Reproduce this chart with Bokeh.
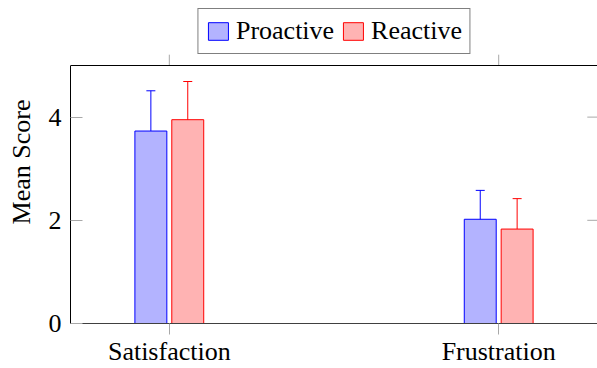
from bokeh.plotting import figure
from bokeh.models import (ColumnDataSource, Whisker, TeeHead, Span,
                          Legend, LegendItem, FixedTicker, Range1d, FactorRange)
from bokeh.transform import dodge
from bokeh.embed import file_html
from bokeh.resources import INLINE

categories = ["Satisfaction", "Frustration"]
series_names = ["Proactive", "Reactive"]
proactive_mean = [3.73, 2.02]
proactive_err = [0.78, 0.56]
reactive_mean = [3.95, 1.83]
reactive_err = [0.74, 0.59]
y_ticks = [0, 2, 4]
Y_MAX = 5          # top of the axis box
Y_VIEW = 6.26      # extra room above the box for the legend
PAD = 0.2          # category padding trimmed from each side of the factor range

FONT = "Liberation Serif"
TICK_GRAY = "#a8a8a8"
BLUE, BLUE_FILL = "#0000ff", "#b3b3ff"
RED, RED_FILL = "#ff0000", "#ffb3b3"

src = ColumnDataSource(dict(
    cat=categories,
    pm=proactive_mean,
    pu=[m + e for m, e in zip(proactive_mean, proactive_err)],
    pl=[m - e for m, e in zip(proactive_mean, proactive_err)],
    rm=reactive_mean,
    ru=[m + e for m, e in zip(reactive_mean, reactive_err)],
    rl=[m - e for m, e in zip(reactive_mean, reactive_err)],
    top=[Y_MAX] * len(categories),
    tick_end=[Y_MAX + 0.21] * len(categories),
))
# right-edge inward ticks, anchored on the last category
rsrc = ColumnDataSource(dict(cat=[categories[-1]] * len(y_ticks), y=y_ticks))

p = figure(width=597, height=368,
           x_range=FactorRange(*categories, range_padding=-PAD),
           y_range=Range1d(0, Y_VIEW),
           output_backend="svg", toolbar_location=None,
           min_border_left=70, min_border_right=0, min_border_top=0, min_border_bottom=0)
p.xgrid.visible = False
p.ygrid.visible = False
p.outline_line_color = None
p.background_fill_color = "white"
p.border_fill_color = "white"

# left axis
p.yaxis.ticker = FixedTicker(ticks=y_ticks)
p.yaxis.bounds = (0, Y_MAX)
p.yaxis.axis_label = "Mean Score"
p.yaxis.axis_label_text_font = FONT
p.yaxis.axis_label_text_font_style = "normal"
p.yaxis.axis_label_text_font_size = "26px"
p.yaxis.axis_label_text_color = "black"
p.yaxis.axis_label_standoff = 10
p.yaxis.major_label_text_font = FONT
p.yaxis.major_label_text_font_size = "26px"
p.yaxis.major_label_text_color = "black"
p.yaxis.major_label_standoff = 9
p.yaxis.major_tick_in = 12
p.yaxis.major_tick_out = 0
p.yaxis.major_tick_line_color = TICK_GRAY
p.yaxis.minor_tick_line_color = None
p.yaxis.axis_line_color = "black"

# bottom axis
p.xaxis.major_label_text_font = FONT
p.xaxis.major_label_text_font_size = "26px"
p.xaxis.major_label_text_color = "black"
p.xaxis.major_label_standoff = 2
p.xaxis.major_tick_in = 0
p.xaxis.major_tick_out = 11
p.xaxis.major_tick_line_color = TICK_GRAY
p.xaxis.axis_line_color = "#404040"

# right edge: inward ticks
p.segment(x0=dodge("cat", 0.5 - PAD, range=p.x_range),
          x1=dodge("cat", 0.5 - PAD - 0.031, range=p.x_range),
          y0="y", y1="y", source=rsrc, line_color=TICK_GRAY, line_width=1)

# top edge of the axis box and its outward ticks
p.add_layout(Span(location=Y_MAX, dimension="width", line_color="black", line_width=1))
p.segment(x0="cat", x1="cat", y0="top", y1="tick_end", source=src,
          line_color=TICK_GRAY, line_width=1)

off = 0.056
bw = 0.097
r1 = p.vbar(x=dodge("cat", -off, range=p.x_range), top="pm", width=bw, source=src,
            fill_color=BLUE_FILL, line_color=BLUE, line_width=1)
r2 = p.vbar(x=dodge("cat", off, range=p.x_range), top="rm", width=bw, source=src,
            fill_color=RED_FILL, line_color=RED, line_width=1)

for o, up, lo, col in [(-off, "pu", "pl", BLUE), (off, "ru", "rl", RED)]:
    w = Whisker(base=dodge("cat", o, range=p.x_range), upper=up, lower=lo, source=src,
                line_color=col, line_width=1,
                upper_head=TeeHead(size=9, line_color=col, line_width=1),
                lower_head=TeeHead(size=9, line_color=col, line_width=1))
    p.add_layout(w)

legend = Legend(items=[LegendItem(label=series_names[0], renderers=[r1]),
                       LegendItem(label=series_names[1], renderers=[r2])],
                orientation="horizontal", location="top_center",
                border_line_color="black", border_line_width=1,
                background_fill_color="white",
                label_text_font=FONT, label_text_font_size="26px",
                label_text_color="black",
                glyph_width=25, glyph_height=22, padding=7, spacing=6,
                label_standoff=6, margin=8)
p.add_layout(legend, "center")

open("out.html", "w").write(file_html(p, INLINE))
